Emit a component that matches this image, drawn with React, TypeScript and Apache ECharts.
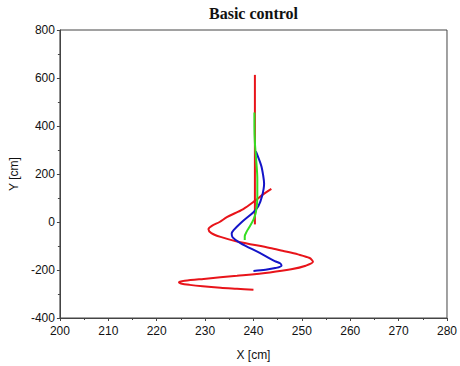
import React, { useEffect, useRef } from "react";
import * as echarts from "echarts";

const xTicks = [200, 210, 220, 230, 240, 250, 260, 270, 280];
const yTicks = [-400, -200, 0, 200, 400, 600, 800];

const refLine: [number, number][] = [
  [240.3, -10],
  [240.3, 613],
];

const redPath: [number, number][] = [
  [240.0, -282], [236.6, -278], [233.2, -274], [229.5, -268], [226.8, -262],
  [225.0, -256], [224.6, -251], [225.8, -245], [229.7, -237], [236.6, -224],
  [243.4, -210], [247.8, -197], [250.8, -182], [252.3, -166], [251.6, -150],
  [249.2, -135], [246.0, -120], [243.4, -108], [236.6, -81], [233.2, -62],
  [231.3, -46], [230.7, -30], [231.4, -16], [233.0, 0], [234.5, 20],
  [237.9, 54], [240.3, 88], [242.0, 115], [243.7, 138],
];

const bluePath: [number, number][] = [
  [240.0, -204], [242.5, -199], [244.5, -192], [245.8, -182], [245.5, -172],
  [244.4, -163], [241.3, -129], [237.3, -88], [235.7, -64], [235.5, -48],
  [235.9, -34], [237.6, 0], [240.0, 41], [241.0, 65], [241.8, 109],
  [242.2, 160], [242.0, 195], [241.6, 235], [240.5, 294],
];

const greenPath: [number, number][] = [
  [238.2, -75], [238.2, -60], [238.6, -40], [239.2, -20], [240.0, 10],
  [240.5, 40], [240.8, 100], [240.8, 180], [240.6, 250], [240.3, 330],
  [240.2, 400], [240.2, 456],
];

export default function App() {
  const ref = useRef<HTMLDivElement>(null);
  useEffect(() => {
    if (!ref.current) return;
    const chart = echarts.init(ref.current, null, { renderer: "svg" });
    const axisColor = "#444";
    const labelStyle = {
      color: "#111",
      fontFamily: "Liberation Sans, Arial, sans-serif",
      fontSize: 12,
    };
    chart.setOption({
      animation: false,
      backgroundColor: "#fff",
      title: {
        text: "Basic control",
        left: 253.5,
        textAlign: "center",
        top: 5,
        padding: 0,
        textStyle: {
          fontFamily: "Liberation Serif, Times New Roman, serif",
          fontWeight: "bold",
          fontSize: 16,
          color: "#111",
        },
      },
      grid: {
        left: 58,
        right: 11,
        top: 30,
        bottom: 41,
        show: true,
        borderColor: axisColor,
        borderWidth: 1,
        backgroundColor: "transparent",
      },
      xAxis: {
        type: "value",
        min: xTicks[0],
        max: xTicks[xTicks.length - 1],
        interval: 10,
        name: "X [cm]",
        nameLocation: "middle",
        nameGap: 31,
        nameTextStyle: { ...labelStyle, fontSize: 12 },
        axisLine: { show: true, onZero: false, lineStyle: { color: axisColor } },
        axisTick: { show: true, inside: false, length: 3, lineStyle: { color: axisColor } },
        minorTick: { show: true, splitNumber: 2, length: 2, lineStyle: { color: axisColor } },
        splitLine: { show: false },
        axisLabel: { ...labelStyle, margin: 7 },
      },
      yAxis: {
        type: "value",
        min: yTicks[0],
        max: yTicks[yTicks.length - 1],
        interval: 200,
        name: "Y [cm]",
        nameLocation: "middle",
        nameGap: 37,
        nameRotate: 90,
        nameTextStyle: { ...labelStyle, fontSize: 12 },
        axisLine: { show: true, onZero: false, lineStyle: { color: axisColor } },
        axisTick: { show: true, inside: false, length: 3, lineStyle: { color: axisColor } },
        minorTick: { show: true, splitNumber: 2, length: 2, lineStyle: { color: axisColor } },
        splitLine: { show: false },
        axisLabel: { ...labelStyle, margin: 5 },
      },
      series: [
        {
          type: "line",
          data: refLine,
          showSymbol: false,
          lineStyle: { color: "#e8141a", width: 2 },
        },
        {
          type: "line",
          data: redPath,
          smooth: 0.3,
          showSymbol: false,
          lineStyle: { color: "#e8141a", width: 2 },
        },
        {
          type: "line",
          data: bluePath,
          smooth: 0.3,
          showSymbol: false,
          lineStyle: { color: "#1414c8", width: 2 },
        },
        {
          type: "line",
          data: greenPath,
          smooth: 0.3,
          showSymbol: false,
          lineStyle: { color: "#33dd22", width: 2 },
        },
      ],
    });
    return () => chart.dispose();
  }, []);
  return (
    <div
      ref={ref}
      style={{ position: "fixed", left: 0, top: 0, width: 460, height: 366 }}
    />
  );
}
